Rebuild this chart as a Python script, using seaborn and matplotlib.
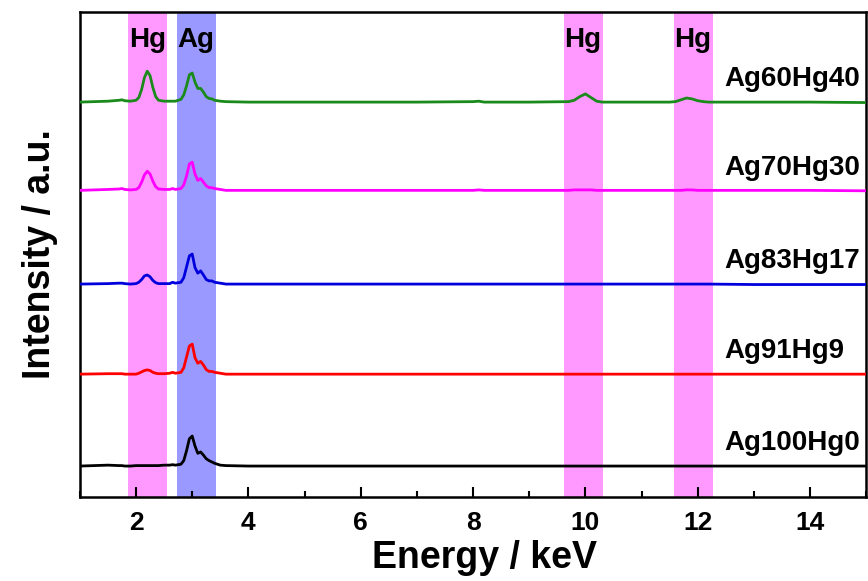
import numpy as np
import pandas as pd
import matplotlib
matplotlib.use("Agg")
import matplotlib.pyplot as plt
import seaborn as sns
from matplotlib.ticker import MultipleLocator

sns.set_theme(style="white")
plt.rcParams['font.family'] = ['Liberation Sans', 'DejaVu Sans']
plt.rcParams['text.color'] = 'black'
plt.rcParams['axes.labelcolor'] = 'black'
plt.rcParams['xtick.color'] = 'black'

# ---- data ----
energy = [1.0, 1.5, 1.7, 1.75, 1.8, 1.9, 2.0, 2.05, 2.1, 2.15, 2.2, 2.25, 2.3, 2.35, 2.4,
          2.5, 2.6, 2.65, 2.7, 2.8, 2.85, 2.9, 2.95, 3.0, 3.05, 3.1, 3.15, 3.2, 3.25,
          3.3, 3.35, 3.4, 3.5, 3.6, 4.0, 5.0, 6.0, 7.0, 8.0, 8.1, 8.2, 9.0, 9.7, 9.8,
          9.9, 10.0, 10.1, 10.2, 10.3, 11.0, 11.5, 11.6, 11.7, 11.8, 11.9, 12.0, 12.1,
          12.2, 13.0, 14.0, 15.0]

ag60hg40 = [0.0, 0.01, 0.02, 0.025, 0.015, 0.01, 0.02, 0.05, 0.14, 0.27, 0.34, 0.29, 0.16, 0.06, 0.02,
            0.01, 0.01, 0.01, 0.01, 0.03, 0.08, 0.18, 0.30, 0.32, 0.22, 0.15, 0.15, 0.11, 0.06,
            0.04, 0.035, 0.02, 0.01, 0.005, 0.0, 0.0, 0.0, 0.0, 0.005, 0.01, 0.0, 0.0, 0.005, 0.02,
            0.06, 0.09, 0.05, 0.01, 0.0, 0.0, 0.0, 0.005, 0.025, 0.045, 0.035, 0.015, 0.005,
            0.0, 0.0, 0.0, -0.005]
ag70hg30 = [0.0, 0.01, 0.015, 0.02, 0.01, 0.005, 0.01, 0.03, 0.09, 0.17, 0.21, 0.18, 0.10, 0.04, 0.015,
            0.01, 0.01, 0.02, 0.01, 0.02, 0.06, 0.16, 0.29, 0.31, 0.18, 0.11, 0.13, 0.09, 0.05,
            0.03, 0.03, 0.02, 0.01, 0.0, 0.0, 0.0, 0.0, 0.0, 0.0, 0.005, 0.0, 0.0, 0.0, 0.005,
            0.005, 0.005, 0.005, 0.0, 0.0, 0.0, 0.0, 0.0, 0.0, 0.005, 0.005, 0.0, 0.0,
            0.0, 0.0, 0.0, -0.005]
ag83hg17 = [0.0, 0.005, 0.01, 0.01, 0.005, 0.0, 0.005, 0.02, 0.05, 0.09, 0.10, 0.08, 0.04, 0.015, 0.005,
            0.005, 0.005, 0.02, 0.01, 0.02, 0.07, 0.19, 0.31, 0.33, 0.18, 0.12, 0.145, 0.10, 0.05,
            0.035, 0.035, 0.02, 0.01, 0.0, 0.0, 0.0, 0.0, 0.0, 0.0, 0.0, 0.0, 0.0, 0.0, 0.0,
            0.0, 0.0, 0.0, 0.0, 0.0, 0.0, 0.0, 0.0, 0.0, 0.0, 0.0, 0.0, 0.0,
            0.0, -0.005, -0.005, -0.005]
ag91hg9 = [0.0, 0.005, 0.005, 0.005, 0.0, 0.0, 0.0, 0.01, 0.025, 0.04, 0.047, 0.04, 0.02, 0.01, 0.005,
           0.005, 0.01, 0.02, 0.01, 0.02, 0.07, 0.19, 0.31, 0.33, 0.18, 0.12, 0.14, 0.10, 0.05,
           0.03, 0.03, 0.02, 0.01, 0.0, 0.0, 0.0, 0.0, 0.0, 0.0, 0.0, 0.0, 0.0, 0.0, 0.0,
           0.0, 0.0, 0.0, 0.0, 0.0, 0.0, 0.0, 0.0, 0.0, 0.0, 0.0, 0.0, 0.0,
           0.0, 0.0, 0.0, 0.0]
ag100hg0 = [0.0, 0.01, 0.005, 0.005, 0.0, 0.0, 0.005, 0.005, 0.005, 0.005, 0.005, 0.005, 0.005, 0.005, 0.005,
            0.01, 0.01, 0.015, 0.01, 0.02, 0.06, 0.17, 0.30, 0.33, 0.22, 0.14, 0.155, 0.12, 0.08,
            0.06, 0.045, 0.03, 0.01, 0.005, 0.0, 0.0, 0.0, 0.0, 0.0, 0.0, 0.0, 0.0, 0.0, 0.0,
            0.0, 0.0, 0.0, 0.0, 0.0, 0.0, 0.0, 0.0, 0.0, 0.0, 0.0, 0.0, 0.0,
            0.0, 0.0, 0.0, 0.0]

samples = ["Ag60Hg40", "Ag70Hg30", "Ag83Hg17", "Ag91Hg9", "Ag100Hg0"]
series = [ag60hg40, ag70hg30, ag83hg17, ag91hg9, ag100hg0]

hg_bands = [(1.86, 2.55), (9.62, 10.31), (11.57, 12.27)]
ag_bands = [(2.73, 3.43)]
band_labels = ["Hg", "Ag", "Hg", "Hg"]
band_label_x = [2.2, 3.07, 9.95, 11.9]

# ---- layout / style ----
offsets = [4.0, 3.03, 2.0, 1.01, 0.0]
colors = ["#1a8a1a", "#ff00ff", "#0000dd", "#ff0000", "#000000"]

frames = []
for name, vals, off in zip(samples, series, offsets):
    frames.append(pd.DataFrame({"Energy": energy,
                                "Intensity": np.asarray(vals) + off,
                                "Sample": name}))
df = pd.concat(frames, ignore_index=True)

fig = plt.figure(figsize=(8.68, 5.81), dpi=100)
ax = fig.add_axes([0.092, 0.1446, 0.906, 0.8347])

for lo, hi in hg_bands:
    ax.axvspan(lo, hi, color="#ff99ff", lw=0, zorder=0)
for lo, hi in ag_bands:
    ax.axvspan(lo, hi, color="#9999ff", lw=0, zorder=0)

sns.lineplot(data=df, x="Energy", y="Intensity", hue="Sample",
             palette=dict(zip(samples, colors)), estimator=None, sort=False,
             legend=False, lw=2.0, ax=ax, zorder=3)

ax.set_xlim(1, 15)
ax.set_ylim(-0.34, 4.99)

for lab, x in zip(band_labels, band_label_x):
    ax.text(x, 4.68, lab, ha="center", va="center", fontsize=20, fontweight="bold",
            color="black")

for name, off in zip(samples, offsets):
    ax.text(12.48, off + 0.25, name, ha="left", va="center", fontsize=20,
            fontweight="bold", color="black")

ax.set_xlabel("Energy / keV", fontsize=27, fontweight="bold", labelpad=4)
ax.xaxis.label.set_x(0.515)
ax.set_ylabel("Intensity / a.u.", fontsize=27, fontweight="bold", labelpad=16)

ax.xaxis.set_major_locator(MultipleLocator(2))
ax.xaxis.set_minor_locator(MultipleLocator(1))
ax.set_yticks([])
ax.tick_params(axis="x", which="major", direction="in", length=7, width=1.5,
               labelsize=19, pad=10, bottom=True, top=False)
ax.tick_params(axis="x", which="minor", direction="in", length=4, width=1.5,
               bottom=True, top=False)
for lbl in ax.get_xticklabels():
    lbl.set_fontweight("bold")

for sp in ax.spines.values():
    sp.set_linewidth(1.8)
    sp.set_color("black")

fig.savefig("out.png", dpi=100)
